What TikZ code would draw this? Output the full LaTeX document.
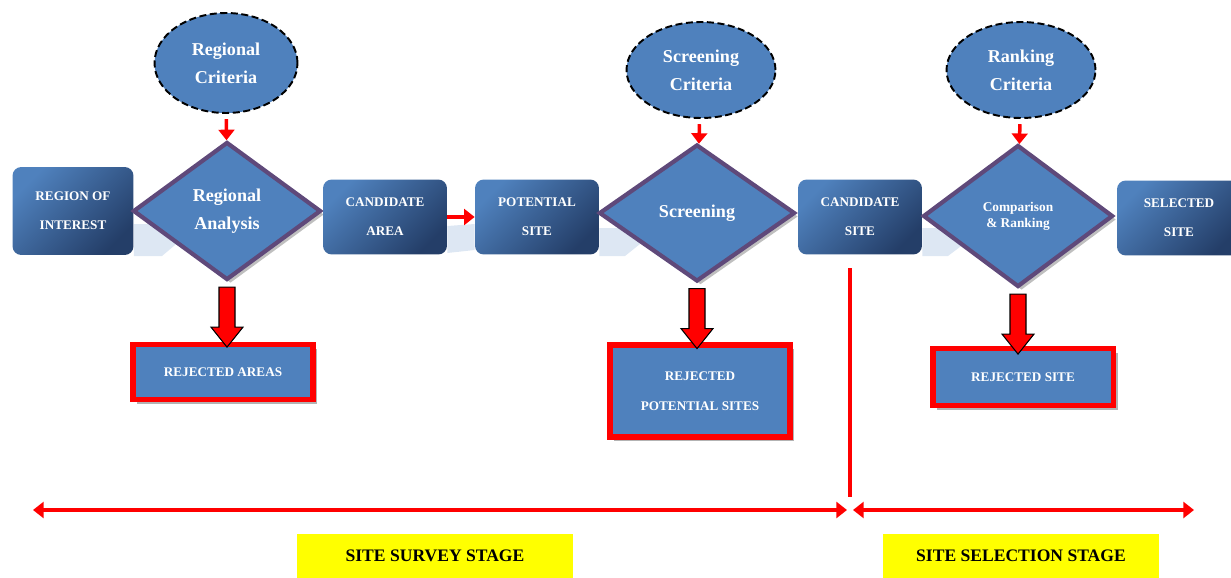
\documentclass[tikz,border=0pt]{standalone}
\usepackage{fontspec}
\setmainfont{Liberation Serif}
\usetikzlibrary{shapes.geometric, arrows.meta, positioning, calc, shadows, backgrounds}
\definecolor{boxblue}{RGB}{79, 129, 189}
\definecolor{boxdark}{RGB}{36, 62, 104}
\definecolor{edgepurple}{RGB}{95, 73, 122}
\definecolor{bandblue}{RGB}{221, 231, 243}
\definecolor{stageyellow}{RGB}{255, 255, 0}

\begin{document}
\begin{tikzpicture}[
    x=0.02cm, y=-0.02cm,
    stepbox/.style={rounded corners=5pt, top color=boxblue, bottom color=boxdark,
                shading angle=45, minimum width=2.48cm, minimum height=1.5cm,
                align=center, text=white, font=\bfseries\fontsize{7.5}{16.5}\selectfont},
    decision/.style={diamond, draw=edgepurple, line width=2.4pt, fill=boxblue,
                inner sep=0pt, minimum width=3.76cm, minimum height=2.76cm,
                align=center, text=white, font=\bfseries\fontsize{10.3}{16}\selectfont,
                drop shadow={shadow xshift=2pt, shadow yshift=-2pt, opacity=0.5, fill=gray}},
    criteria/.style={ellipse, draw=black, line width=1.1pt, dash pattern=on 4pt off 2pt,
                fill=boxblue, inner sep=0pt, minimum width=2.98cm, minimum height=1.92cm,
                align=center, text=white, font=\bfseries\fontsize{10.3}{16}\selectfont},
    rejbox/.style={draw=red, line width=3.4pt, fill=boxblue, minimum width=3.6cm,
                align=center, text=white, font=\bfseries\fontsize{7.5}{17}\selectfont,
                drop shadow={shadow xshift=2.5pt, shadow yshift=-2.5pt, opacity=0.6, fill=gray}},
    stage/.style={fill=stageyellow, minimum width=5.52cm, minimum height=0.9cm,
                font=\bfseries\fontsize{10}{12}\selectfont},
    redarrow/.style={draw=red, line width=2pt, -{Triangle[width=9pt, length=6pt]}},
    redline/.style={draw=red, line width=2.2pt},
    blockarrow/.style={fill=red, draw=black, line width=0.6pt}
]
    \useasboundingbox (0,0) rectangle (1231,578);

    % Criteria
    \node[criteria, minimum width=2.86cm, minimum height=2cm] (regcrit) at (226,63) {Regional\\Criteria};
    \node[criteria] (scrcrit) at (701,70) {Screening\\Criteria};
    \node[criteria] (rankcrit) at (1021,70) {Ranking\\Criteria};

    % Main row
    \node[stepbox, minimum width=2.42cm, minimum height=1.76cm] (roi) at (73,211) {REGION OF\\INTEREST};
    \node[decision] (reganal) at (227,211) {Regional\\Analysis};
    \node[stepbox] (carea) at (385,217) {CANDIDATE\\AREA};
    \node[stepbox] (psite) at (537,217) {POTENTIAL\\SITE};
    \node[decision, minimum width=3.92cm, minimum height=2.74cm] (screen) at (697,213) {Screening};
    \node[stepbox] (csite) at (860,217) {CANDIDATE\\SITE};
    \node[decision, minimum width=3.8cm, minimum height=2.84cm,
          font=\bfseries\fontsize{7.6}{9}\selectfont] (compare) at (1018,216) {Comparison\\\& Ranking};
    \node[stepbox] (ssite) at (1179,218) {SELECTED\\SITE};

    % Light bands behind the row
    \begin{scope}[on background layer]
        \fill[bandblue] (roi.east |- 0,224) -- (200,224) -- (162,256) -- (roi.east |- 0,256) -- cycle;
        \fill[bandblue] (carea.east |- 0,226) -- (psite.west |- 0,224) -- (psite.west |- 0,250) -- (carea.east |- 0,253) -- cycle;
        \fill[bandblue] (psite.east |- 0,228) -- (660,228) -- (625,256) -- (psite.east |- 0,256) -- cycle;
        \fill[bandblue] (csite.east |- 0,228) -- (985,228) -- (948,256) -- (csite.east |- 0,256) -- cycle;
    \end{scope}

    % Rejected
    \node[rejbox, minimum height=1.1cm] (rejarea) at (223,372) {REJECTED AREAS};
    \node[rejbox, minimum height=1.84cm] (rejpot) at (700,391) {REJECTED\\POTENTIAL SITES};
    \node[rejbox, minimum width=3.62cm, minimum height=1.14cm] (rejsite) at (1023,377) {REJECTED SITE};

    % Arrows
    \draw[redarrow, shorten <=3pt] (regcrit) -- (reganal);
    \draw[redarrow, shorten <=3pt] (scrcrit) -- (screen);
    \draw[redarrow, shorten <=3pt] (rankcrit) -- (compare);
    \draw[redarrow] (carea) -- (psite);
    \foreach \n in {reganal, screen, compare}
        \draw[blockarrow] (\n.south) ++(-8,5) -- ++(0,40) -- ++(-8,0) -- ++(16,20)
            -- ++(16,-20) -- ++(-8,0) -- ++(0,-40) -- cycle;

    % Stages
    \coordinate (divtop) at (850,268);
    \coordinate (divbot) at (850,497);
    \coordinate (surveyL) at (33,510);
    \coordinate (surveyR) at (847,510);
    \coordinate (selectL) at (853,510);
    \coordinate (selectR) at (1194,510);
    \draw[redline] (divtop) -- (divbot);
    \draw[redline, {Triangle[width=9pt, length=6pt]}-{Triangle[width=9pt, length=6pt]}] (surveyL) -- (surveyR);
    \draw[redline, {Triangle[width=9pt, length=6pt]}-{Triangle[width=9pt, length=6pt]}] (selectL) -- (selectR);
    \node[stage] (survey) at (435,556) {SITE SURVEY STAGE};
    \node[stage] (selection) at (1021,556) {SITE SELECTION STAGE};
\end{tikzpicture}
\end{document}
